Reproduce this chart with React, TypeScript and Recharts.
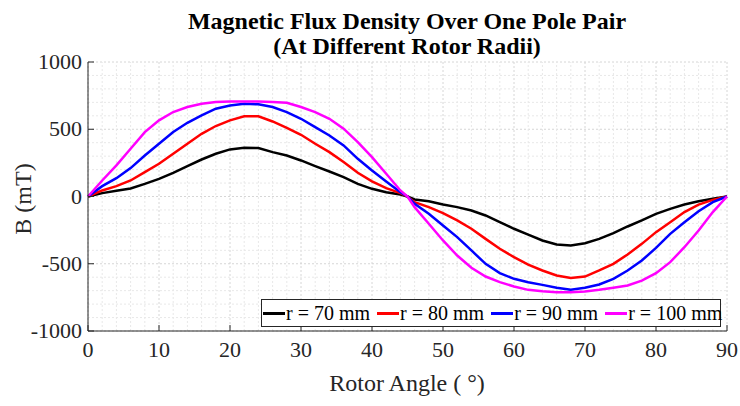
import { CartesianGrid, Line, LineChart, ReferenceLine, XAxis, YAxis } from "recharts";

const angles = [
  0, 2, 4, 6, 8, 10, 12, 14, 16, 18, 20, 22, 24, 26, 28, 30, 32, 34, 36, 38, 40, 42, 44, 45,
  46, 48, 50, 52, 54, 56, 58, 60, 62, 64, 66, 68, 70, 72, 74, 76, 78, 80, 82, 84, 86, 88, 90,
];
const r70 = [
  0, 25, 42, 60, 94, 131, 176, 226, 275, 318, 350, 362, 360, 330, 305, 268, 226, 186, 144, 94, 57, 32, 15, 0,
  -22, -35, -60, -79, -104, -141, -191, -240, -283, -327, -357, -364, -347, -315, -273, -223, -178, -129, -92, -60, -35, -17, 0,
];
const r80 = [
  0, 45, 77, 119, 181, 243, 318, 392, 466, 524, 566, 596, 596, 558, 511, 459, 392, 330, 256, 176, 112, 62, 25, 0,
  -42, -79, -124, -178, -240, -315, -389, -451, -506, -550, -587, -605, -595, -550, -501, -431, -352, -265, -191, -116, -60, -25, 0,
];
const r90 = [
  0, 77, 136, 211, 305, 392, 479, 548, 603, 653, 677, 690, 685, 665, 628, 578, 516, 454, 380, 280, 194, 112, 32, 0,
  -55, -129, -216, -302, -401, -501, -570, -612, -637, -657, -679, -694, -679, -654, -612, -550, -476, -382, -278, -191, -109, -42, 0,
];
const r100 = [
  0, 119, 231, 355, 479, 566, 628, 665, 690, 702, 707, 707, 707, 702, 697, 665, 628, 578, 504, 404, 293, 169, 45, 0,
  -79, -203, -327, -439, -530, -595, -637, -669, -694, -704, -711, -711, -706, -694, -679, -662, -625, -570, -488, -377, -253, -116, 0,
];

const xTicks = [0, 10, 20, 30, 40, 50, 60, 70, 80, 90];
const yTicks = [-1000, -500, 0, 500, 1000];
const xMinor = Array.from({ length: 46 }, (_, i) => i * 2).filter((v) => v % 10 !== 0);
const yMinor = Array.from({ length: 21 }, (_, i) => -1000 + i * 100).filter((v) => v % 500 !== 0);

const series = [
  { key: "r70", name: "r = 70 mm", color: "#000000" },
  { key: "r80", name: "r = 80 mm", color: "#ff0000" },
  { key: "r90", name: "r = 90 mm", color: "#0000ff" },
  { key: "r100", name: "r = 100 mm", color: "#ff00ff" },
];

const data = angles.map((a, i) => ({ a, r70: r70[i], r80: r80[i], r90: r90[i], r100: r100[i] }));

const FONT = "'Liberation Serif', 'Times New Roman', serif";
const AXIS = "#262626";

const BottomTick = (p: any) => (
  <g>
    <line x1={p.x} x2={p.x} y1={p.y} y2={p.y - 6} stroke={AXIS} />
    <text x={p.x} y={p.y + 26} textAnchor="middle" fontSize={22} fontFamily={FONT} fill="#262626">
      {p.payload.value}
    </text>
  </g>
);
const LeftTick = (p: any) => (
  <g>
    <line x1={p.x} x2={p.x + 6} y1={p.y} y2={p.y} stroke={AXIS} />
    <text x={p.x - 6} y={p.y + 7} textAnchor="end" fontSize={22} fontFamily={FONT} fill="#262626">
      {p.payload.value}
    </text>
  </g>
);
const TopTick = (p: any) => <line x1={p.x} x2={p.x} y1={p.y} y2={p.y + 6} stroke={AXIS} />;
const RightTick = (p: any) => <line x1={p.x} x2={p.x - 6} y1={p.y} y2={p.y} stroke={AXIS} />;

function LegendBox() {
  return (
    <div
      style={{
        position: "absolute",
        left: 261,
        top: 299,
        width: 460,
        height: 28,
        display: "flex",
        alignItems: "center",
        border: "1px solid #262626",
        background: "#fff",
        fontFamily: FONT,
        fontSize: 20,
        padding: "0 1px",
        boxSizing: "border-box",
        whiteSpace: "nowrap",
        color: "#000",
      }}
    >
      {series.map((s) => (
        <span key={s.key} style={{ display: "flex", alignItems: "center", marginRight: 7 }}>
          <span style={{ display: "inline-block", width: 22, height: 3, background: s.color, marginRight: 1 }} />
          <span>{s.name}</span>
        </span>
      ))}
    </div>
  );
}

export default function App() {
  return (
    <div style={{ position: "absolute", left: 0, top: 0, width: 740, height: 406, background: "#fff" }}>
      <LineChart width={740} height={406} data={data} margin={{ top: 62, right: 13, bottom: 45, left: 28 }}>
        {xMinor.map((v) => (
          <ReferenceLine key={"vx" + v} x={v} stroke="#e8e8e8" strokeDasharray="2 2" />
        ))}
        {yMinor.map((v) => (
          <ReferenceLine key={"hy" + v} y={v} stroke="#e8e8e8" strokeDasharray="2 2" />
        ))}
        <CartesianGrid stroke="#d6d6d6" strokeDasharray="2 2" />
        <XAxis
          dataKey="a"
          type="number"
          domain={[0, 90]}
          ticks={xTicks}
          tickLine={false}
          tickSize={0}
          tickMargin={0}
          height={30}
          stroke={AXIS}
          tick={BottomTick}
          interval={0}
        />
        <XAxis
          xAxisId="top"
          orientation="top"
          dataKey="a"
          type="number"
          domain={[0, 90]}
          ticks={xTicks}
          tickLine={false}
          tickSize={0}
          tickMargin={0}
          height={0}
          stroke={AXIS}
          tick={TopTick}
          interval={0}
        />
        <YAxis
          type="number"
          domain={[-1000, 1000]}
          ticks={yTicks}
          tickLine={false}
          tickSize={0}
          tickMargin={0}
          width={60}
          stroke={AXIS}
          tick={LeftTick}
          interval={0}
        />
        <YAxis
          yAxisId="right"
          orientation="right"
          type="number"
          domain={[-1000, 1000]}
          ticks={yTicks}
          tickLine={false}
          tickSize={0}
          tickMargin={0}
          width={0}
          stroke={AXIS}
          tick={RightTick}
          interval={0}
        />
        {series.map((s) => (
          <Line
            key={s.key}
            dataKey={s.key}
            name={s.name}
            type="linear"
            stroke={s.color}
            strokeWidth={2.5}
            dot={false}
            isAnimationActive={false}
          />
        ))}
        <text x={407} y={29} textAnchor="middle" fontFamily={FONT} fontWeight="bold" fontSize={24} fill="#000">
          Magnetic Flux Density Over One Pole Pair
        </text>
        <text x={407} y={54} textAnchor="middle" fontFamily={FONT} fontWeight="bold" fontSize={24} fill="#000">
          (At Different Rotor Radii)
        </text>
        <text x={407} y={391} textAnchor="middle" fontFamily={FONT} fontSize={24} fill="#262626">
          Rotor Angle ( °)
        </text>
        <text
          x={25}
          y={199}
          textAnchor="middle"
          dominantBaseline="middle"
          fontFamily={FONT}
          fontSize={24}
          fill="#262626"
          transform="rotate(-90 25 199)"
        >
          B (mT)
        </text>
      </LineChart>
      <LegendBox />
    </div>
  );
}
